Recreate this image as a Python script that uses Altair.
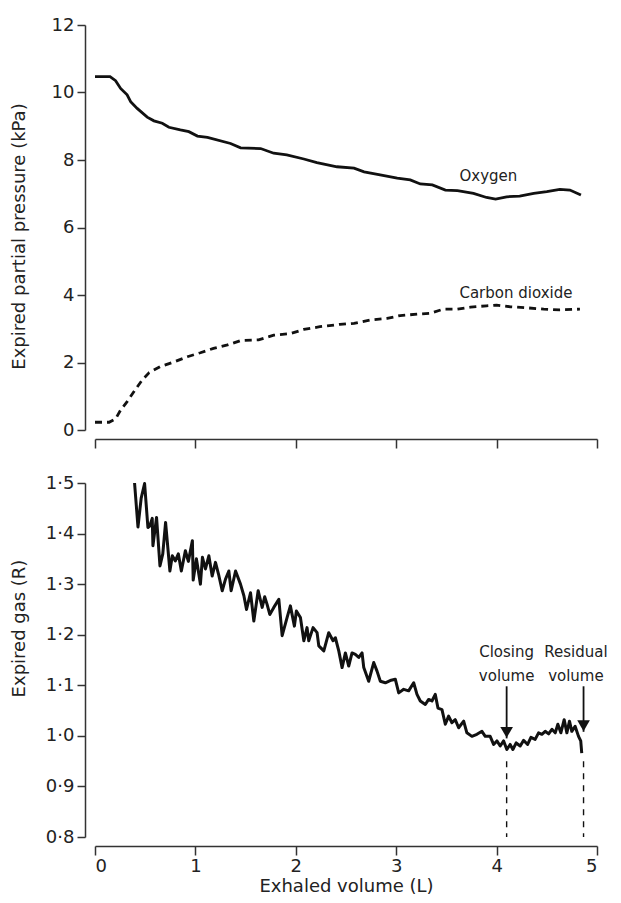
import altair as alt
import pandas as pd

# ---------------- data ----------------
ox_x = [0.0, 0.15, 0.205, 0.255, 0.32, 0.355, 0.42, 0.52, 0.587, 0.67, 0.736, 0.85, 0.935,
        1.02, 1.12, 1.35, 1.45, 1.65, 1.78, 1.91, 2.08, 2.21, 2.41, 2.58, 2.68, 2.84, 3.01,
        3.14, 3.24, 3.36, 3.49, 3.61, 3.77, 3.90, 3.99, 4.10, 4.23, 4.37, 4.50, 4.63, 4.73, 4.84]
ox_y = [10.47, 10.47, 10.35, 10.12, 9.93, 9.73, 9.53, 9.27, 9.16, 9.09, 8.97, 8.89, 8.84,
        8.71, 8.67, 8.49, 8.36, 8.34, 8.20, 8.15, 8.03, 7.92, 7.80, 7.76, 7.65, 7.56, 7.46,
        7.41, 7.29, 7.26, 7.11, 7.09, 7.01, 6.89, 6.84, 6.91, 6.93, 7.01, 7.06, 7.13, 7.11, 6.96]

co_x = [0.0, 0.14, 0.205, 0.255, 0.32, 0.40, 0.47, 0.54, 0.65, 0.79, 0.92, 1.05, 1.18, 1.32,
        1.45, 1.63, 1.78, 1.95, 2.08, 2.24, 2.44, 2.58, 2.74, 2.91, 3.04, 3.24, 3.34, 3.47,
        3.61, 3.74, 3.90, 4.00, 4.14, 4.30, 4.47, 4.63, 4.83]
co_y = [0.23, 0.23, 0.33, 0.59, 0.84, 1.19, 1.48, 1.70, 1.88, 2.02, 2.17, 2.29, 2.42, 2.52,
        2.65, 2.67, 2.81, 2.86, 2.98, 3.06, 3.13, 3.16, 3.26, 3.31, 3.39, 3.44, 3.46, 3.58,
        3.58, 3.64, 3.68, 3.70, 3.65, 3.62, 3.58, 3.56, 3.58]

r_x = [0.394, 0.428, 0.46, 0.494, 0.527, 0.545, 0.570, 0.577, 0.613, 0.647, 0.675, 0.703,
       0.746, 0.770, 0.800, 0.830, 0.860, 0.900, 0.930, 0.970, 0.978, 1.010, 1.050, 1.070,
       1.100, 1.134, 1.167, 1.200, 1.230, 1.267, 1.300, 1.333, 1.356, 1.400, 1.449, 1.483,
       1.509, 1.549, 1.582, 1.625, 1.665, 1.690, 1.714, 1.741, 1.781, 1.831, 1.864, 1.913,
       1.946, 1.986, 2.006, 2.046, 2.080, 2.112, 2.129, 2.172, 2.212, 2.229, 2.279, 2.328,
       2.371, 2.394, 2.428, 2.461, 2.494, 2.527, 2.560, 2.593, 2.627, 2.660, 2.677, 2.726,
       2.776, 2.809, 2.842, 2.892, 2.950, 2.991, 3.025, 3.075, 3.124, 3.174, 3.207, 3.240,
       3.290, 3.323, 3.356, 3.389, 3.416, 3.456, 3.489, 3.522, 3.555, 3.588, 3.622, 3.672,
       3.704, 3.754, 3.804, 3.854, 3.887, 3.936, 3.970, 4.003, 4.036, 4.070, 4.102, 4.135,
       4.162, 4.195, 4.235, 4.269, 4.309, 4.342, 4.384, 4.418, 4.451, 4.484, 4.518, 4.551,
       4.584, 4.610, 4.640, 4.673, 4.700, 4.726, 4.749, 4.782, 4.816, 4.838, 4.848]
r_y = [1.500, 1.413, 1.470, 1.499, 1.412, 1.415, 1.430, 1.376, 1.432, 1.336, 1.360, 1.422,
       1.326, 1.356, 1.346, 1.360, 1.326, 1.366, 1.345, 1.386, 1.308, 1.350, 1.300, 1.353,
       1.330, 1.356, 1.316, 1.343, 1.320, 1.287, 1.310, 1.326, 1.287, 1.326, 1.300, 1.277,
       1.250, 1.283, 1.227, 1.287, 1.254, 1.275, 1.260, 1.240, 1.254, 1.270, 1.198, 1.234,
       1.257, 1.217, 1.247, 1.234, 1.188, 1.214, 1.188, 1.214, 1.204, 1.178, 1.168, 1.204,
       1.188, 1.194, 1.168, 1.135, 1.164, 1.138, 1.164, 1.161, 1.155, 1.164, 1.135, 1.108,
       1.145, 1.128, 1.108, 1.105, 1.110, 1.112, 1.085, 1.092, 1.089, 1.105, 1.082, 1.069,
       1.062, 1.072, 1.069, 1.082, 1.055, 1.052, 1.023, 1.039, 1.026, 1.032, 1.016, 1.029,
       1.006, 0.999, 1.003, 1.009, 0.999, 0.999, 0.983, 0.990, 0.980, 0.990, 0.973, 0.983,
       0.973, 0.986, 0.980, 0.991, 0.983, 0.997, 0.993, 1.006, 1.003, 1.009, 1.004, 1.013,
       1.006, 1.023, 1.006, 1.032, 1.006, 1.029, 1.009, 1.019, 0.999, 0.990, 0.966]

curve_labels = ["Oxygen", "Carbon dioxide"]
curve_label_x = [3.63, 3.63]
curve_label_y = [7.53, 4.06]

marker_x = [4.10, 4.866]            # closing volume, residual volume
arrow_top = [1.098, 1.098]
arrow_tip = [0.995, 1.008]
dash_top = [0.95, 0.95]
dash_bottom = [0.80, 0.80]
marker_line1 = ["Closing", "Residual"]
marker_line2 = ["volume", "volume"]
marker_text_x = [4.10, 4.79]
marker_text_y1 = [1.165, 1.165]
marker_text_y2 = [1.118, 1.118]

FONT = "DejaVu Sans"
INK = "#111111"
AX = "#333333"

ox = pd.DataFrame({"x": ox_x, "y": ox_y})
co = pd.DataFrame({"x": co_x, "y": co_y})
rr = pd.DataFrame({"x": r_x, "y": r_y})
lab = pd.DataFrame({"x": curve_label_x, "y": curve_label_y, "t": curve_labels})
mk = pd.DataFrame({"x": marker_x, "a0": arrow_top, "a1": arrow_tip,
                   "d0": dash_top, "d1": dash_bottom,
                   "t1": marker_line1, "t2": marker_line2,
                   "tx": marker_text_x, "ty1": marker_text_y1, "ty2": marker_text_y2})

W = 502
axis_common = dict(grid=False, domainColor=AX, tickColor=AX, domainWidth=1.5, tickWidth=1.5,
                   labelFont=FONT, labelFontSize=18, labelColor="#222222",
                   titleFont=FONT, titleFontSize=18, titleColor="#222222", titleFontWeight="normal")

xs = alt.Scale(domain=[0, 5], nice=False, zero=False)

# ---------------- top panel ----------------
x_top = alt.X("x:Q", scale=xs,
              axis=alt.Axis(values=[0, 1, 2, 3, 4, 5], labels=False, title=None,
                            offset=9, tickSize=9, **axis_common))
y_top = alt.Y("y:Q", scale=alt.Scale(domain=[0, 12], nice=False),
              axis=alt.Axis(values=[0, 2, 4, 6, 8, 10, 12], format="d",
                            title="Expired partial pressure (kPa)",
                            offset=10, tickSize=8, labelPadding=3,
                            titleX=-66, titleY=211, titleBaseline="middle", **axis_common))

o_line = alt.Chart(ox).mark_line(color=INK, strokeWidth=2.8).encode(x=x_top, y=y_top)
c_line = alt.Chart(co).mark_line(color=INK, strokeWidth=2.8, strokeDash=[7, 5]).encode(x="x:Q", y="y:Q")
c_text = alt.Chart(lab).mark_text(align="left", baseline="middle", font=FONT, fontSize=15,
                                  color="#222222").encode(x="x:Q", y="y:Q", text="t:N")
top = alt.layer(o_line, c_line, c_text).properties(width=W, height=405)

# ---------------- bottom panel ----------------
x_bot = alt.X("x:Q", scale=xs,
              axis=alt.Axis(values=[0, 1, 2, 3, 4, 5], format="d", title="Exhaled volume (L)",
                            offset=9, tickSize=9, labelPadding=2, titlePadding=2, **axis_common))
y_bot = alt.Y("y:Q", scale=alt.Scale(domain=[0.8, 1.5], nice=False, zero=False),
              axis=alt.Axis(values=[0.8, 0.9, 1.0, 1.1, 1.2, 1.3, 1.4, 1.5], format=".1f",
                            labelExpr="replace(datum.label, '.', '·')",
                            title="Expired gas (R)", offset=10, tickSize=8, labelPadding=3,
                            titleX=-66, titleY=145, titleBaseline="middle", **axis_common))

r_line = alt.Chart(rr).mark_line(color=INK, strokeWidth=3, strokeJoin="round").encode(x=x_bot, y=y_bot)
arrows = alt.Chart(mk).mark_rule(color=INK, strokeWidth=1.8).encode(x="x:Q", y="a0:Q", y2="a1:Q")
heads = alt.Chart(mk).mark_point(shape="triangle-down", filled=True, color=INK, opacity=1,
                                 size=160, yOffset=-6).encode(x="x:Q", y="a1:Q")
dashes = alt.Chart(mk).mark_rule(color=INK, strokeWidth=1.4, strokeDash=[6, 6]).encode(
    x="x:Q", y="d0:Q", y2="d1:Q")
t1 = alt.Chart(mk).mark_text(align="center", baseline="middle", font=FONT, fontSize=15,
                             color="#222222").encode(x="tx:Q", y="ty1:Q", text="t1:N")
t2 = alt.Chart(mk).mark_text(align="center", baseline="middle", font=FONT, fontSize=15,
                             color="#222222").encode(x="tx:Q", y="ty2:Q", text="t2:N")
bottom = alt.layer(r_line, arrows, heads, dashes, t1, t2).properties(width=W, height=354)

chart = alt.vconcat(top, bottom, spacing=25).properties(
    padding={"left": 2, "top": 8, "right": 0, "bottom": 0},
    background="white",
).configure_view(stroke=None)

chart.save("out.html", embed_options={"renderer": "svg", "actions": False})
